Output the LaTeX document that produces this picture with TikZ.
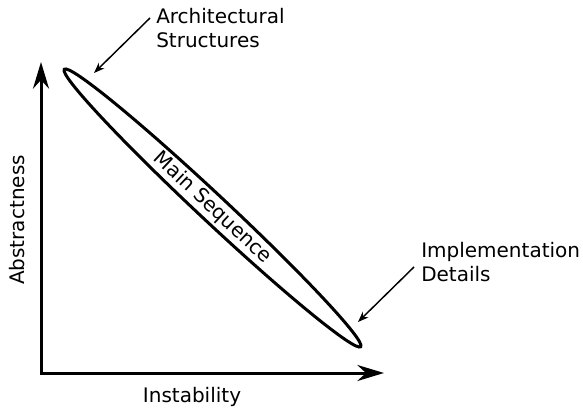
\documentclass[tikz,border=0pt]{standalone}
\usepackage{fontspec}
\setmainfont{DejaVu Sans}
\usetikzlibrary{arrows.meta,shapes.geometric}

\begin{document}
\begin{tikzpicture}[
        x=0.75pt, y=0.75pt,
        every node/.style={font=\fontsize{15}{18}\selectfont},
        axis/.style={line width=2.25pt, {Stealth[length=20pt,width=12pt]}-{Stealth[length=20pt,width=12pt]}},
        band/.style={ellipse, draw, line width=2.25pt, inner sep=0pt, minimum width=304.5pt, minimum height=20pt, rotate=-43.1},
        note/.style={align=left, anchor=west, inner sep=0pt},
        pointer/.style={line width=1.1pt, -{Stealth[length=8pt,width=6pt]}}
    ]
        \useasboundingbox (0,0) rectangle (583,408);

        % axes
        \coordinate (origin) at (41,35);
        \coordinate (ytip) at (41,346);
        \coordinate (xtip) at (384,35);
        \draw[axis] (ytip) -- (origin) -- (xtip);
        \node (instab) at (192,11) {Instability};
        \node[rotate=90] (abstr) at (17,188) {Abstractness};

        % main sequence
        \node[band] (seq) at (212.5,200) {Main Sequence};

        % annotations
        \node[note] (arch) at (156,380) {Architectural\\Structures};
        \coordinate (archtip) at (94,335);
        \draw[pointer] ([shift={(-6,10)}]arch.west) -- (archtip);

        \node[note] (impl) at (421,146) {Implementation\\Details};
        \coordinate (impltip) at (358,86);
        \draw[pointer] ([shift={(-7,-5)}]impl.west) -- (impltip);

    \end{tikzpicture}
\end{document}
